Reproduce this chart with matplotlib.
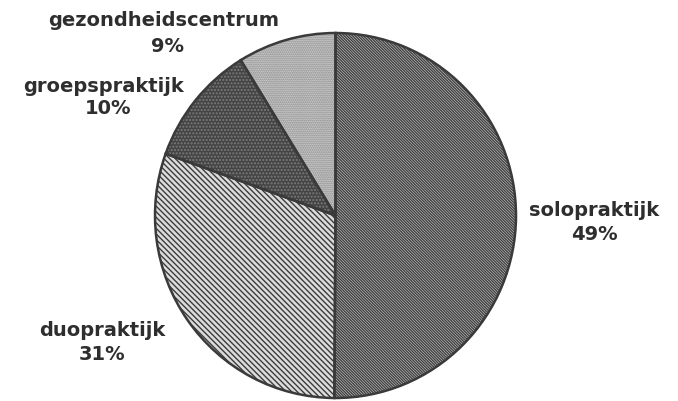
import matplotlib
matplotlib.use("Agg")
import matplotlib.pyplot as plt

# praktijkvorm, share of the pie as drawn (degrees -> percent)
categories = ["solopraktijk", "duopraktijk", "groepspraktijk", "gezondheidscentrum"]
shares = [50.1, 30.4, 10.7, 8.8]
pct_labels = ["49%", "31%", "10%", "9%"]

# fill style per slice
faces = ["#cfcfcf", "#dcdcdc", "#444444", "#dedede"]
hatch_cols = ["#404040", "#3c3c3c", "#7c7c7c", "#7a7a7a"]
hatches = ["\\" * 12, "\\" * 6, "." * 5, "." * 8]

plt.rcParams["hatch.linewidth"] = 1.0
plt.rcParams["font.family"] = ["DejaVu Sans"]

fig = plt.figure(figsize=(6.78, 4.01), dpi=100)
ax = fig.add_axes([0, 0, 1, 1])

# pixel geometry of the pie in the reference
cx, cy, rx, ry = 335.5, 215.5, 180.5, 182.5
W, H = 678, 401

wedges, _ = ax.pie(shares, startangle=90, counterclock=False, radius=1,
                   wedgeprops=dict(linewidth=0))
for w, fc, hc, h in zip(wedges, faces, hatch_cols, hatches):
    w.set_facecolor(fc)
    w.set_edgecolor(hc)
    w.set_hatch(h)

# outlines on top
outl, _ = ax.pie(shares, startangle=90, counterclock=False, radius=1,
                 wedgeprops=dict(fill=False, edgecolor="#3a3a3a", linewidth=1.8))

ax.set_aspect("auto")
ax.set_xlim((0 - cx) / rx, (W - cx) / rx)
ax.set_ylim((cy - H) / ry, cy / ry)
ax.axis("off")


def px(x, y):
    return (x - cx) / rx, (cy - y) / ry


# label block centres in pixels (name line, percent line)
label_pos = {
    "solopraktijk": ((594, 210), (594, 234)),
    "duopraktijk": ((102, 330), (102, 355)),
    "groepspraktijk": ((104, 86), (108, 108)),
    "gezondheidscentrum": ((164, 20), (167, 46)),
}

for name, pct in zip(categories, pct_labels):
    (nx, ny), (qx, qy) = label_pos[name]
    ax.text(*px(nx, ny), name, ha="center", va="center", fontsize=14,
            fontweight="bold", color="#2e2e2e")
    ax.text(*px(qx, qy), pct, ha="center", va="center", fontsize=14,
            fontweight="bold", color="#2e2e2e")

fig.savefig("out.png", dpi=100)
